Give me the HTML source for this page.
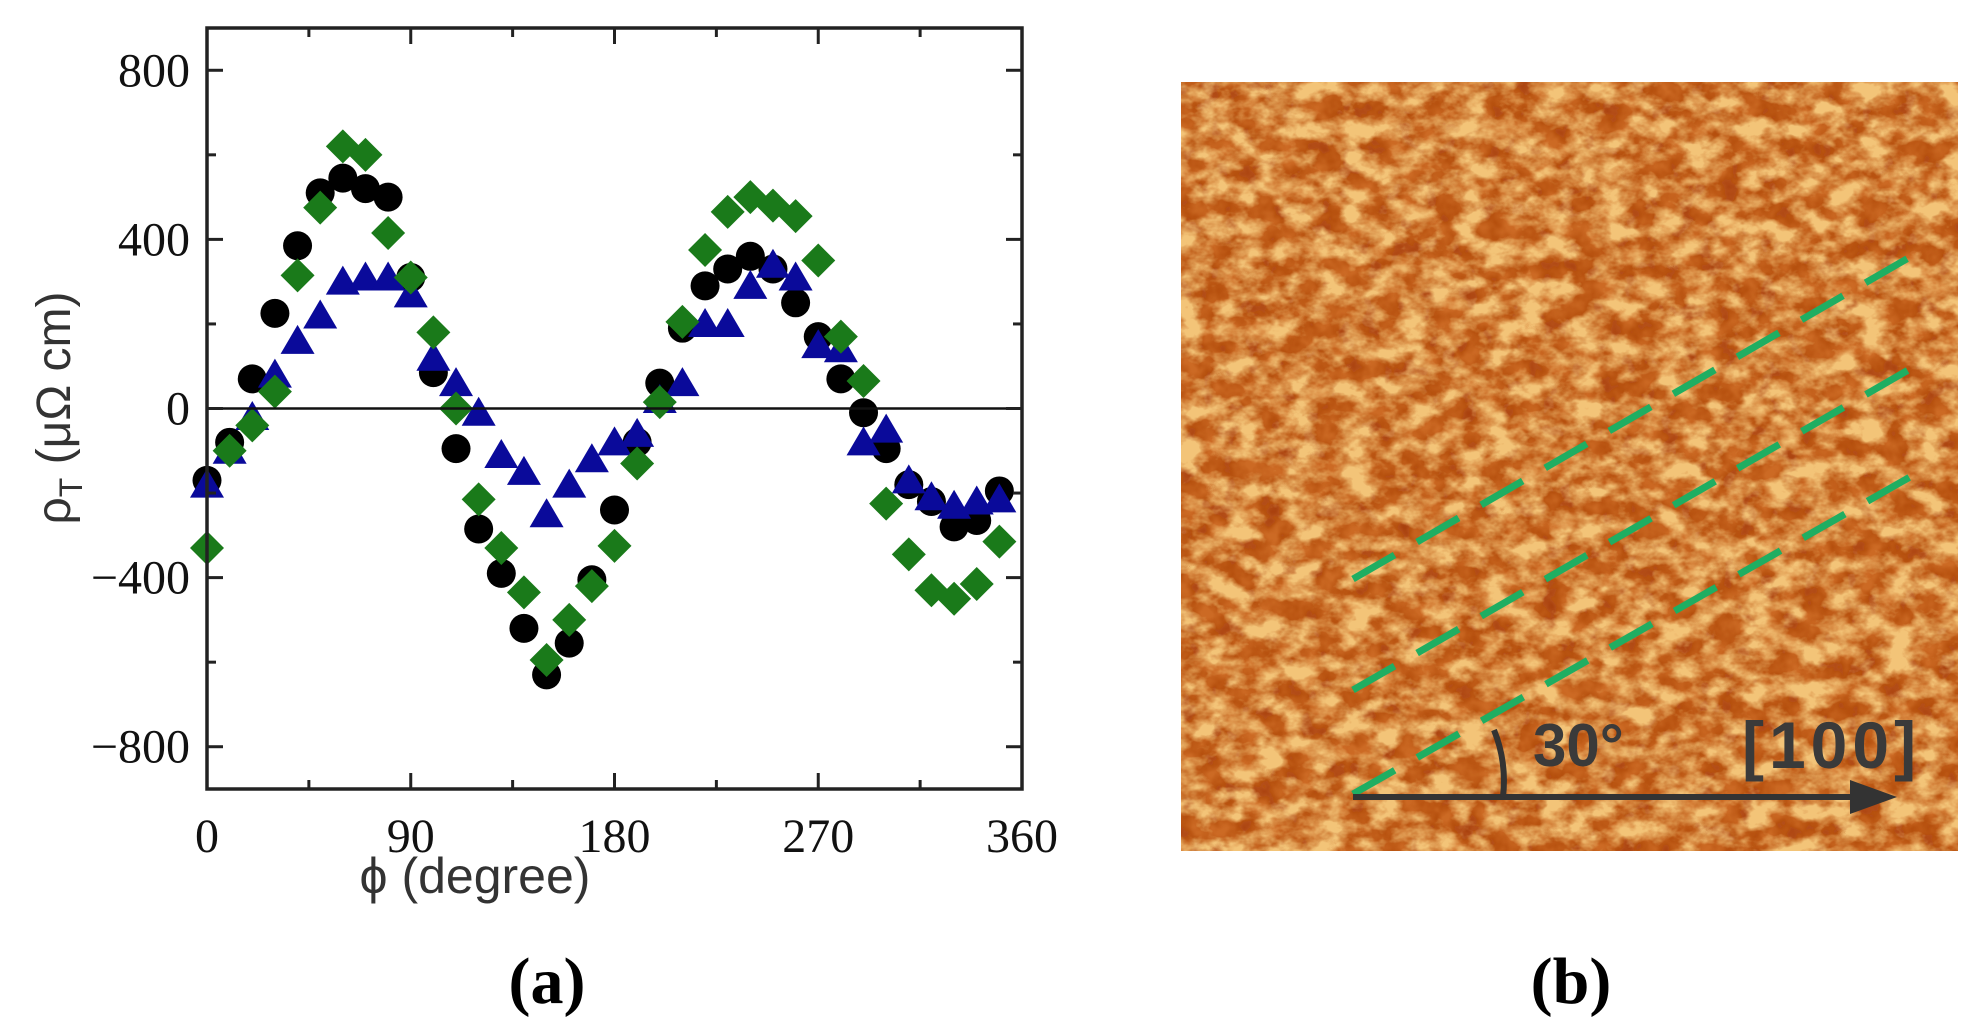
<!DOCTYPE html>
<html><head><meta charset="utf-8"><style>
html,body{margin:0;padding:0;background:#fff;width:1986px;height:1033px;overflow:hidden}
</style></head><body>
<svg id="s" width="1986" height="1033" viewBox="0 0 1986 1033" xmlns="http://www.w3.org/2000/svg">
<defs>
<filter id="afm" x="0" y="0" width="100%" height="100%">
<feTurbulence type="fractalNoise" baseFrequency="0.035 0.05" numOctaves="4" seed="7" result="n"/>
<feColorMatrix in="n" type="matrix" values="0 0 0 0 0  0 0 0 0 0  0 0 0 0 0  1.2 0.6 0.3 0 -0.5" result="a"/>
<feComponentTransfer in="a" result="b"><feFuncA type="linear" slope="2.4" intercept="-0.95"/></feComponentTransfer>
<feFlood flood-color="#f3c478" result="c"/>
<feComposite in="c" in2="b" operator="in"/>
</filter>
<filter id="afm2" x="0" y="0" width="100%" height="100%">
<feTurbulence type="fractalNoise" baseFrequency="0.05" numOctaves="3" seed="21" result="n"/>
<feColorMatrix in="n" type="matrix" values="0 0 0 0 0  0 0 0 0 0  0 0 0 0 0  0.5 1.4 0.3 0 -0.7" result="a"/>
<feFlood flood-color="#a8400a" result="c"/>
<feComposite in="c" in2="a" operator="in"/>
</filter>
</defs>
<!-- panel b -->
<rect x="1181" y="82" width="777" height="769" fill="#cc6a24"/>
<rect x="1181" y="82" width="777" height="769" filter="url(#afm2)"/>
<rect x="1181" y="82" width="777" height="769" filter="url(#afm)"/>
<g stroke="#1fae62" stroke-width="7" stroke-dasharray="48,26" fill="none">
<line x1="1353" y1="579" x2="1917" y2="253"/>
<line x1="1353" y1="690" x2="1917" y2="365"/>
<line x1="1353" y1="794" x2="1917" y2="473"/>
</g>
<line x1="1353" y1="797" x2="1865" y2="797" stroke="#333" stroke-width="6"/>
<polygon points="1897,797 1850,780 1850,814" fill="#333"/>
<path d="M1494,730 Q1507,762 1503,797" stroke="#333" stroke-width="6" fill="none"/>
<text x="1533" y="766" font-family="Liberation Sans, sans-serif" font-weight="bold" font-size="60" fill="#3a3a3a">30°</text>
<text x="1742" y="768" font-family="Liberation Sans, sans-serif" font-weight="bold" font-size="66" fill="#3a3a3a" letter-spacing="5">[100]</text>
<text x="1571" y="1003" text-anchor="middle" font-family="Liberation Serif, serif" font-weight="bold" font-size="66">(b)</text>
<!-- panel a -->
<g id="data"></g>
<line x1="207" y1="408.5" x2="1022" y2="408.5" stroke="#111" stroke-width="2.5"/>
<rect x="207" y="28" width="815" height="761" fill="none" stroke="#222" stroke-width="3.5"/>
<g id="ticks" stroke="#222" stroke-width="3"></g>
<g font-family="Liberation Serif, serif" font-size="48" fill="#111" id="labels"></g>
<text transform="translate(70,408) rotate(-90)" text-anchor="middle" font-family="Liberation Sans, sans-serif" font-size="48" fill="#333">ρ<tspan font-size="32" dy="12">T</tspan><tspan dy="-12"> (μΩ cm)</tspan></text>
<text x="475" y="893" text-anchor="middle" font-family="Liberation Sans, sans-serif" font-size="50" fill="#333">ϕ (degree)</text>
<text x="547" y="1003" text-anchor="middle" font-family="Liberation Serif, serif" font-weight="bold" font-size="66">(a)</text>
</svg>
<script>
var NS="http://www.w3.org/2000/svg";
function X(d){return 207+d*815/360;}
function Y(v){return 408.5-v*761/1800;}
function el(p,t,a){var e=document.createElementNS(NS,t);for(var k in a)e.setAttribute(k,a[k]);p.appendChild(e);return e;}
var circ=[-170,-80,70,225,385,510,545,520,500,310,85,-95,-285,-390,-520,-630,-555,-405,-240,-80,60,190,290,330,360,330,250,170,70,-10,-95,-180,-220,-280,-265,-195];
var dia=[-330,-100,-40,40,315,475,620,600,415,310,180,0,-215,-330,-435,-595,-500,-420,-325,-130,15,205,375,465,500,480,455,350,170,65,-225,-345,-430,-450,-415,-315];
var tri=[-180,-100,-20,80,160,220,300,310,310,270,120,60,-10,-110,-150,-250,-180,-120,-80,-60,20,60,200,200,290,340,310,150,140,-80,-50,-170,-210,-230,-220,-215];
var g=document.getElementById("data");
for(var i=0;i<36;i++){var x=X(i*10),y=Y(circ[i]);el(g,"circle",{cx:x,cy:y,r:14.5,fill:"#000"});}
for(var i=0;i<36;i++){var x=X(i*10),y=Y(tri[i]);el(g,"polygon",{points:(x)+","+(y-16)+" "+(x-17)+","+(y+13)+" "+(x+17)+","+(y+13),fill:"#0a0a9a"});}
for(var i=0;i<36;i++){var x=X(i*10),y=Y(dia[i]);el(g,"polygon",{points:x+","+(y-17)+" "+(x+17)+","+y+" "+x+","+(y+17)+" "+(x-17)+","+y,fill:"#1a7a1a"});}
var t=document.getElementById("ticks");
for(var d=45;d<360;d+=45){var L=(d%90==0)?16:9;var x=X(d);el(t,"line",{x1:x,y1:789,x2:x,y2:789-L});el(t,"line",{x1:x,y1:28,x2:x,y2:28+L});}
for(var v=-800;v<=800;v+=200){var L=(v%400==0)?16:9;var y=Y(v);el(t,"line",{x1:207,y1:y,x2:207+L,y2:y});el(t,"line",{x1:1022,y1:y,x2:1022-L,y2:y});}
var lb=document.getElementById("labels");
[0,90,180,270,360].forEach(function(d){var e=el(lb,"text",{x:X(d),y:852,"text-anchor":"middle"});e.textContent=d;});
[800,400,0,-400,-800].forEach(function(v){var e=el(lb,"text",{x:190,y:Y(v)+16,"text-anchor":"end"});e.textContent=(v<0?"\u2212"+(-v):v);});
</script>
</body></html>
